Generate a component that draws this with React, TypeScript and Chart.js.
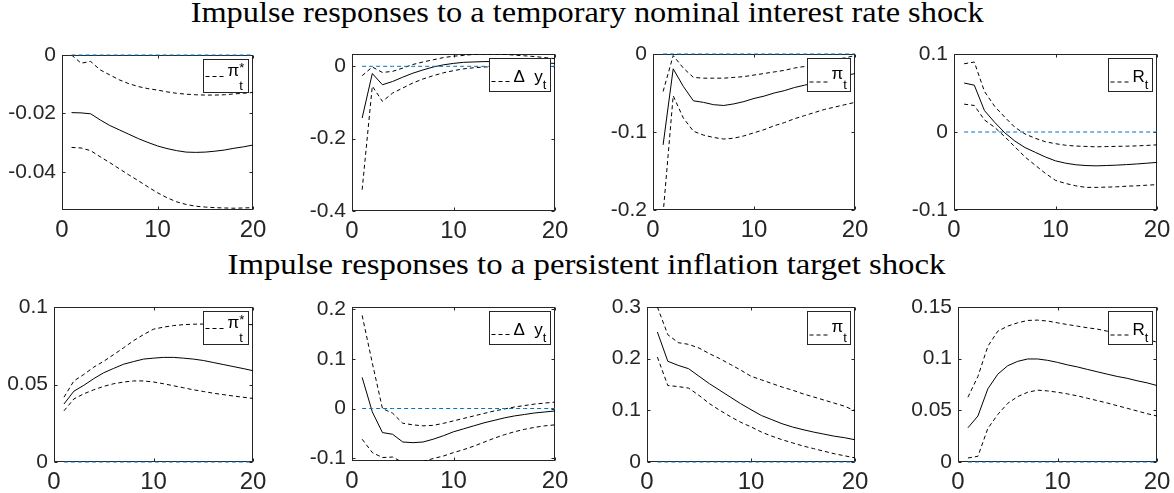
import React, { useEffect, useLayoutEffect, useRef } from "react";
import { Chart, registerables } from "chart.js";

Chart.register(...registerables);

// ---------------- data ----------------
const HORIZONS = [1, 2, 3, 4, 5, 6, 7, 8, 9, 10, 11, 12, 13, 14, 15, 16, 17, 18, 19, 20];
const X_TICKS = [0, 10, 20];
const X_TICK_LABELS = ["0", "10", "20"];

const TITLE_TOP = "Impulse responses to a temporary nominal interest rate shock";
const TITLE_BOTTOM = "Impulse responses to a persistent inflation target shock";

// Row 1: temporary nominal interest rate shock
const PISTAR_R_MED = [-0.0197, -0.0198, -0.0201, -0.0222, -0.0241, -0.0256, -0.0271, -0.0286, -0.0299, -0.0311, -0.032, -0.0327, -0.0332, -0.0333, -0.0332, -0.0329, -0.0325, -0.0319, -0.0314, -0.0308];
const PISTAR_R_UP = [0.0, -0.0028, -0.0022, -0.0051, -0.0068, -0.0085, -0.0098, -0.0108, -0.0115, -0.012, -0.0126, -0.0131, -0.0134, -0.0136, -0.0137, -0.0137, -0.0136, -0.0133, -0.0131, -0.0128];
const PISTAR_R_LO = [-0.0316, -0.0318, -0.0327, -0.0348, -0.0368, -0.0389, -0.041, -0.043, -0.0451, -0.0471, -0.0488, -0.0502, -0.0511, -0.0517, -0.052, -0.0522, -0.0523, -0.0524, -0.0523, -0.0522];

const DY_R_MED = [-0.143, -0.02, -0.051, -0.042, -0.03, -0.019, -0.01, -0.002, 0.004, 0.008, 0.011, 0.012, 0.013, 0.013, 0.013, 0.012, 0.011, 0.01, 0.009, 0.008];
const DY_R_UP = [-0.026, -0.002, -0.017, -0.014, -0.005, 0.005, 0.012, 0.018, 0.024, 0.028, 0.03, 0.033, 0.034, 0.034, 0.033, 0.031, 0.029, 0.027, 0.024, 0.021];
const DY_R_LO = [-0.341, -0.055, -0.097, -0.074, -0.06, -0.046, -0.035, -0.026, -0.018, -0.012, -0.007, -0.004, -0.002, -0.001, -0.001, -0.001, -0.001, -0.001, -0.002, -0.002];

const PI_R_MED = [-0.1165, -0.019, -0.0415, -0.06, -0.062, -0.065, -0.066, -0.064, -0.061, -0.057, -0.054, -0.05, -0.047, -0.043, -0.04, -0.037, -0.034, -0.031, -0.028, -0.025];
const PI_R_UP = [-0.048, -0.002, -0.018, -0.03, -0.031, -0.031, -0.031, -0.03, -0.029, -0.027, -0.025, -0.023, -0.021, -0.018, -0.016, -0.013, -0.01, -0.007, -0.005, -0.002];
const PI_R_LO = [-0.205, -0.0535, -0.082, -0.099, -0.104, -0.107, -0.109, -0.108, -0.105, -0.101, -0.097, -0.092, -0.088, -0.083, -0.079, -0.075, -0.071, -0.068, -0.065, -0.062];

const R_R_MED = [0.0628, 0.06, 0.0275, 0.0125, -0.001, -0.0116, -0.02, -0.026, -0.032, -0.037, -0.04, -0.042, -0.043, -0.0434, -0.043, -0.0425, -0.0418, -0.041, -0.04, -0.039];
const R_R_UP = [0.0875, 0.0897, 0.052, 0.033, 0.019, 0.006, -0.0026, -0.008, -0.0125, -0.015, -0.017, -0.018, -0.0185, -0.019, -0.0187, -0.0184, -0.0182, -0.0178, -0.0172, -0.0165];
const R_R_LO = [0.0357, 0.034, 0.0155, 0.006, -0.006, -0.019, -0.032, -0.0426, -0.053, -0.062, -0.066, -0.069, -0.071, -0.071, -0.0707, -0.0703, -0.0695, -0.069, -0.0682, -0.0675];

// Row 2: persistent inflation target shock
const PISTAR_T_MED = [0.0374, 0.0457, 0.0495, 0.0538, 0.0576, 0.0604, 0.0631, 0.0648, 0.0664, 0.067, 0.0675, 0.0675, 0.067, 0.0664, 0.0655, 0.0642, 0.0629, 0.0616, 0.0603, 0.0589];
const PISTAR_T_UP = [0.0418, 0.0523, 0.0565, 0.0612, 0.065, 0.0693, 0.0737, 0.0783, 0.0822, 0.0857, 0.087, 0.088, 0.0886, 0.0889, 0.089, 0.089, 0.089, 0.0888, 0.0887, 0.0886];
const PISTAR_T_LO = [0.033, 0.0407, 0.044, 0.0466, 0.0488, 0.0505, 0.0516, 0.0523, 0.0523, 0.0516, 0.0505, 0.0492, 0.0479, 0.0466, 0.0455, 0.0444, 0.0435, 0.0426, 0.0418, 0.041];

const DY_T_MED = [0.0628, -0.0068, -0.0486, -0.052, -0.0676, -0.069, -0.0676, -0.062, -0.055, -0.047, -0.041, -0.035, -0.029, -0.024, -0.019, -0.015, -0.012, -0.009, -0.007, -0.005];
const DY_T_UP = [0.188, 0.092, 0.0, -0.0095, -0.0297, -0.033, -0.035, -0.034, -0.03, -0.025, -0.02, -0.015, -0.01, -0.005, -0.001, 0.003, 0.006, 0.009, 0.011, 0.013];
const DY_T_LO = [-0.062, -0.089, -0.099, -0.098, -0.109, -0.109, -0.107, -0.101, -0.096, -0.089, -0.083, -0.076, -0.068, -0.06, -0.053, -0.047, -0.042, -0.038, -0.035, -0.033];

const PI_T_MED = [0.2516, 0.195, 0.187, 0.1806, 0.166, 0.1516, 0.1387, 0.1258, 0.113, 0.1013, 0.09, 0.082, 0.074, 0.0677, 0.0626, 0.058, 0.054, 0.05, 0.047, 0.043];
const PI_T_UP = [0.3, 0.2465, 0.231, 0.2277, 0.2206, 0.2097, 0.2, 0.189, 0.178, 0.166, 0.159, 0.152, 0.145, 0.139, 0.132, 0.126, 0.12, 0.114, 0.108, 0.099];
const PI_T_LO = [0.203, 0.148, 0.146, 0.143, 0.129, 0.113, 0.1, 0.088, 0.077, 0.068, 0.058, 0.05, 0.043, 0.037, 0.031, 0.026, 0.021, 0.016, 0.012, 0.008];

const R_T_MED = [0.0331, 0.0445, 0.0708, 0.085, 0.0932, 0.0974, 0.0997, 0.0997, 0.0984, 0.0964, 0.094, 0.092, 0.0896, 0.0873, 0.085, 0.0828, 0.081, 0.0786, 0.0766, 0.074];
const R_T_UP = [0.0627, 0.0828, 0.112, 0.1266, 0.1315, 0.1347, 0.137, 0.1373, 0.1364, 0.1347, 0.133, 0.1315, 0.1299, 0.1286, 0.1266, 0.125, 0.1234, 0.1211, 0.1185, 0.116];
const R_T_LO = [0.0039, 0.0055, 0.0325, 0.046, 0.0568, 0.0633, 0.0675, 0.0695, 0.0688, 0.0675, 0.0659, 0.064, 0.0617, 0.0594, 0.0571, 0.0545, 0.052, 0.0494, 0.0468, 0.0445];

// y tick values / labels
const Y1_TICKS = [-0.04, -0.02, 0];
const Y1_LABELS = ["-0.04", "-0.02", "0"];
const Y2_TICKS = [-0.4, -0.2, 0];
const Y2_LABELS = ["-0.4", "-0.2", "0"];
const Y3_TICKS = [-0.2, -0.1, 0];
const Y3_LABELS = ["-0.2", "-0.1", "0"];
const Y4_TICKS = [-0.1, 0, 0.1];
const Y4_LABELS = ["-0.1", "0", "0.1"];
const Y5_TICKS = [0, 0.05, 0.1];
const Y5_LABELS = ["0", "0.05", "0.1"];
const Y6_TICKS = [-0.1, 0, 0.1, 0.2];
const Y6_LABELS = ["-0.1", "0", "0.1", "0.2"];
const Y7_TICKS = [0, 0.1, 0.2, 0.3];
const Y7_LABELS = ["0", "0.1", "0.2", "0.3"];
const Y8_TICKS = [0, 0.05, 0.1, 0.15];
const Y8_LABELS = ["0", "0.05", "0.1", "0.15"];

// ---------------- layout / style ----------------
const FRAME_COLOR = "#262626";
const ZERO_COLOR = "#0072BD";
const SANS = '"Liberation Sans", Arial, Helvetica, sans-serif';

type LegendSpec = { main: string; sub?: string; sup?: string; mb: number; ly: number };
type PanelSpec = {
  med: number[]; up: number[]; lo: number[];
  yMin: number; yMax: number; yTicks: number[]; yLabels: string[];
  legend: LegendSpec;
  rect: { l: number; t: number; r: number; b: number };
};

const LG_PISTAR: LegendSpec = { main: "\u03C0", sub: "t", sup: "*", mb: 16, ly: 17 };
const LG_DY: LegendSpec = { main: "\u0394  y", sub: "t", mb: 23, ly: 23 };
const LG_PI: LegendSpec = { main: "\u03C0", sub: "t", mb: 20, ly: 23.5 };
const LG_R: LegendSpec = { main: "R", sub: "t", mb: 23, ly: 23.5 };

const PANELS: PanelSpec[] = [
  { med: PISTAR_R_MED, up: PISTAR_R_UP, lo: PISTAR_R_LO, yMin: -0.053, yMax: 0, yTicks: Y1_TICKS, yLabels: Y1_LABELS, legend: LG_PISTAR, rect: { l: 62, t: 55, r: 253, b: 210 } },
  { med: DY_R_MED, up: DY_R_UP, lo: DY_R_LO, yMin: -0.4, yMax: 0.034, yTicks: Y2_TICKS, yLabels: Y2_LABELS, legend: LG_DY, rect: { l: 352, t: 54, r: 555, b: 211 } },
  { med: PI_R_MED, up: PI_R_UP, lo: PI_R_LO, yMin: -0.2, yMax: 0, yTicks: Y3_TICKS, yLabels: Y3_LABELS, legend: LG_PI, rect: { l: 653, t: 54, r: 855, b: 210 } },
  { med: R_R_MED, up: R_R_UP, lo: R_R_LO, yMin: -0.1, yMax: 0.1, yTicks: Y4_TICKS, yLabels: Y4_LABELS, legend: LG_R, rect: { l: 954, t: 54, r: 1157, b: 210 } },
  { med: PISTAR_T_MED, up: PISTAR_T_UP, lo: PISTAR_T_LO, yMin: 0, yMax: 0.1, yTicks: Y5_TICKS, yLabels: Y5_LABELS, legend: LG_PISTAR, rect: { l: 54, t: 307, r: 253, b: 462 } },
  { med: DY_T_MED, up: DY_T_UP, lo: DY_T_LO, yMin: -0.106, yMax: 0.205, yTicks: Y6_TICKS, yLabels: Y6_LABELS, legend: LG_DY, rect: { l: 352, t: 307, r: 555, b: 461 } },
  { med: PI_T_MED, up: PI_T_UP, lo: PI_T_LO, yMin: 0, yMax: 0.3, yTicks: Y7_TICKS, yLabels: Y7_LABELS, legend: LG_PI, rect: { l: 647, t: 307, r: 855, b: 462 } },
  { med: R_T_MED, up: R_T_UP, lo: R_T_LO, yMin: 0, yMax: 0.15, yTicks: Y8_TICKS, yLabels: Y8_LABELS, legend: LG_R, rect: { l: 958, t: 307, r: 1157, b: 462 } },
];

const PAD_LEFT = 60;
const PAD_TOP = 22;
const PAD_RIGHT = 24;
const PAD_BOTTOM = 36;

function Panel({ spec }: { spec: PanelSpec }) {
  const ref = useRef<HTMLCanvasElement | null>(null);
  const { rect } = spec;
  const W = rect.r - rect.l + PAD_LEFT + PAD_RIGHT;
  const H = rect.b - rect.t + PAD_TOP + PAD_BOTTOM;

  useEffect(() => {
    const canvas = ref.current;
    if (!canvas) return;

    const framePlugin = {
      id: "matlabFrame",
      beforeDatasetsDraw(chart: any) {
        const { ctx, chartArea: ca, scales } = chart;
        const l = Math.round(ca.left) + 0.5;
        const r = Math.round(ca.right) - 0.5;
        const t = Math.round(ca.top) + 0.5;
        const b = Math.round(ca.bottom) - 0.5;
        ctx.save();
        ctx.strokeStyle = FRAME_COLOR;
        ctx.lineWidth = 1;
        ctx.setLineDash([]);
        ctx.strokeRect(l, t, r - l, b - t);
        ctx.beginPath();
        const TL = 3;
        for (const v of X_TICKS) {
          const px = Math.round(scales.x.getPixelForValue(v)) + 0.5;
          ctx.moveTo(px, t); ctx.lineTo(px, t + TL);
          ctx.moveTo(px, b); ctx.lineTo(px, b - TL);
        }
        for (const v of spec.yTicks) {
          const py = Math.round(scales.y.getPixelForValue(v)) + 0.5;
          ctx.moveTo(l, py); ctx.lineTo(l + TL, py);
          ctx.moveTo(r, py); ctx.lineTo(r - TL, py);
        }
        ctx.stroke();
        ctx.restore();
      },
    };

    const legendPlugin = {
      id: "matlabLegend",
      afterDatasetsDraw(chart: any) {
        const { ctx, chartArea: ca } = chart;
        const lg = spec.legend;
        const mainFont = `17px ${SANS}`;
        const subFont = `13px ${SANS}`;
        ctx.save();
        ctx.font = mainFont;
        const mw = ctx.measureText(lg.main).width;
        ctx.font = subFont;
        const sw = Math.max(lg.sub ? ctx.measureText(lg.sub).width : 0, lg.sup ? ctx.measureText(lg.sup).width : 0);
        const w = Math.round(24 + mw + sw + 4);
        const h = 33;
        const x0 = Math.round(ca.right - 5.5 - w) + 0.5;
        const y0 = Math.round(ca.top + 4) + 0.5;
        ctx.fillStyle = "#ffffff";
        ctx.fillRect(x0, y0, w, h);
        ctx.strokeStyle = FRAME_COLOR;
        ctx.lineWidth = 1;
        ctx.setLineDash([]);
        ctx.strokeRect(x0, y0, w, h);
        ctx.strokeStyle = "#000000";
        ctx.setLineDash([4, 3]);
        ctx.beginPath();
        ctx.moveTo(x0 + 2, y0 + lg.ly);
        ctx.lineTo(x0 + 22, y0 + lg.ly);
        ctx.stroke();
        ctx.setLineDash([]);
        ctx.fillStyle = "#000000";
        ctx.textAlign = "left";
        ctx.textBaseline = "alphabetic";
        ctx.font = mainFont;
        ctx.fillText(lg.main, x0 + 24, y0 + lg.mb);
        ctx.font = subFont;
        if (lg.sub) ctx.fillText(lg.sub, x0 + 24 + mw, y0 + 30.5);
        if (lg.sup) ctx.fillText(lg.sup, x0 + 24 + mw, y0 + 12);
        ctx.restore();
      },
    };

    const pts = (arr: number[]) => HORIZONS.map((x, i) => ({ x, y: arr[i] }));

    const chart = new Chart(canvas, {
      type: "line",
      data: {
        datasets: [
          {
            label: "zero",
            data: HORIZONS.map((x) => ({ x, y: 0 })),
            borderColor: ZERO_COLOR,
            borderWidth: 1,
            borderDash: [4, 3],
            pointRadius: 0,
            clip: { left: 0, right: 0, top: 2, bottom: 2 } as any,
          },
          {
            label: "median",
            data: pts(spec.med),
            borderColor: "#000000",
            borderWidth: 1,
            pointRadius: 0,
          },
          {
            label: "upper",
            data: pts(spec.up),
            borderColor: "#000000",
            borderWidth: 1,
            borderDash: [4, 3],
            pointRadius: 0,
          },
          {
            label: "lower",
            data: pts(spec.lo),
            borderColor: "#000000",
            borderWidth: 1,
            borderDash: [4, 3],
            pointRadius: 0,
          },
        ],
      },
      options: {
        animation: false,
        responsive: false,
        maintainAspectRatio: false,
        devicePixelRatio: 1,
        events: [],
        layout: { padding: { top: PAD_TOP, right: PAD_RIGHT, left: 0, bottom: 0 } },
        elements: { line: { tension: 0 } },
        plugins: {
          legend: { display: false },
          tooltip: { enabled: false },
          title: { display: false },
        },
        scales: {
          x: {
            type: "linear",
            min: 0,
            max: 20,
            grid: { display: false, drawTicks: false },
            border: { display: false },
            ticks: {
              font: { family: SANS, size: 24 },
              color: FRAME_COLOR,
              padding: 6,
              maxRotation: 0,
              autoSkip: false,
              callback: (v: any) => {
                const i = X_TICKS.indexOf(Number(v));
                return i >= 0 ? X_TICK_LABELS[i] : "";
              },
            },
            afterBuildTicks: (s: any) => {
              s.ticks = X_TICKS.map((v) => ({ value: v }));
            },
            afterFit: (s: any) => {
              s.height = PAD_BOTTOM;
            },
          },
          y: {
            type: "linear",
            min: spec.yMin,
            max: spec.yMax,
            grid: { display: false, drawTicks: false },
            border: { display: false },
            ticks: {
              font: { family: SANS, size: 21 },
              color: FRAME_COLOR,
              padding: 6,
              autoSkip: false,
              callback: (v: any) => {
                const i = spec.yTicks.findIndex((t) => Math.abs(t - Number(v)) < 1e-9);
                return i >= 0 ? spec.yLabels[i] : "";
              },
            },
            afterBuildTicks: (s: any) => {
              s.ticks = spec.yTicks.map((v) => ({ value: v }));
            },
            afterFit: (s: any) => {
              s.width = PAD_LEFT;
            },
          },
        },
      } as any,
      plugins: [framePlugin, legendPlugin],
    });
    return () => chart.destroy();
  }, [spec]);

  return (
    <canvas
      ref={ref}
      width={W}
      height={H}
      style={{ position: "absolute", left: rect.l - PAD_LEFT, top: rect.t - PAD_TOP, width: W, height: H }}
    />
  );
}

function FitTitle({ text, cx, baseline, width }: { text: string; cx: number; baseline: number; width: number }) {
  const ref = useRef<HTMLSpanElement | null>(null);
  useLayoutEffect(() => {
    const el = ref.current;
    if (!el) return;
    el.style.transform = "none";
    const w = el.getBoundingClientRect().width;
    if (w > 0) el.style.transform = `scaleX(${width / w})`;
  }, [text, width]);
  const size = 29;
  return (
    <div
      style={{
        position: "absolute",
        left: cx - 600,
        width: 1200,
        top: baseline - 24.8,
        height: 30,
        lineHeight: "30px",
        textAlign: "center",
        fontFamily: '"Liberation Serif", "Times New Roman", serif',
        fontSize: size,
        color: "#000",
        whiteSpace: "nowrap",
      }}
    >
      <span ref={ref} style={{ display: "inline-block", transformOrigin: "50% 50%" }}>
        {text}
      </span>
    </div>
  );
}

export default function App() {
  return (
    <div
      style={{
        position: "fixed",
        left: 0,
        top: 0,
        width: 1174,
        height: 493,
        background: "#ffffff",
        overflow: "hidden",
      }}
    >
      <FitTitle text={TITLE_TOP} cx={587.5} baseline={22} width={793} />
      <FitTitle text={TITLE_BOTTOM} cx={586} baseline={274} width={718} />
      {PANELS.map((p, i) => (
        <Panel key={i} spec={p} />
      ))}
    </div>
  );
}
